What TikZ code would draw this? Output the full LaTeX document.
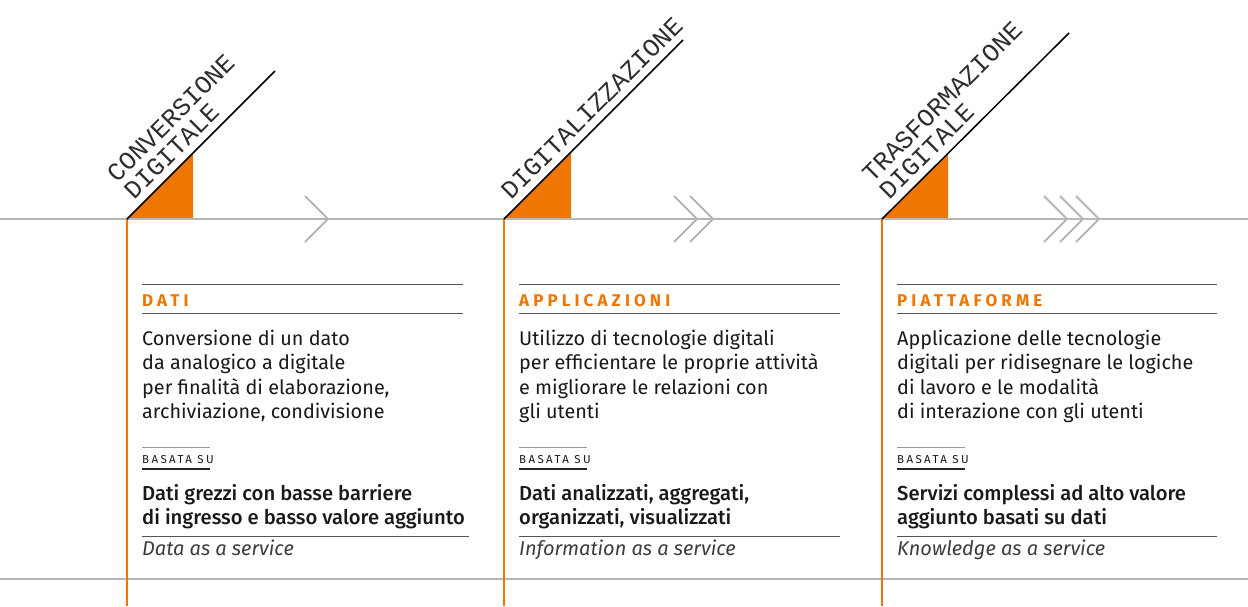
\documentclass[tikz,border=0pt]{standalone}
\usepackage{fontspec}
\setmainfont{Fira Sans}
\newfontfamily\medfont{Fira Sans Medium}
\newfontfamily\headfont{Fira Sans}[LetterSpace=24]
\newfontfamily\basfont{Fira Sans}[LetterSpace=21]
\newfontfamily\titlemono{Liberation Mono}
\usetikzlibrary{calc}
\definecolor{orng}{RGB}{238,118,3}
\definecolor{lgray}{RGB}{182,182,182}
\definecolor{rulec}{RGB}{85,85,85}
\definecolor{txt}{RGB}{25,25,25}
\definecolor{itc}{RGB}{60,60,60}
\definecolor{ttlc}{RGB}{45,45,45}
\tikzset{
  grayline/.style={draw=lgray, line width=2pt},
  chev/.style={draw=lgray, line width=2pt},
  orangeline/.style={draw=orng, line width=1.4pt},
  diag/.style={draw=black, line width=1.5pt},
  tri/.style={fill=orng},
  thinrule/.style={draw=rulec, line width=1pt},
  thickrule/.style={draw=black!85, line width=2pt},
  ttl/.style={rotate=45, anchor=base west, inner sep=0pt, text=ttlc, font=\titlemono\fontsize{25.5}{25.5}\selectfont},
  head/.style={anchor=base west, inner sep=0pt, text=orng, font=\headfont\bfseries\fontsize{17}{17}\selectfont},
  bodytxt/.style={anchor=base west, inner sep=0pt, text=txt, font=\fontsize{19.8}{24}\selectfont},
  bastxt/.style={anchor=base west, inner sep=0pt, text=txt, font=\basfont\fontsize{11.5}{12}\selectfont},
  medtxt/.style={anchor=base west, inner sep=0pt, text=txt, font=\medfont\fontsize{20.2}{24}\selectfont},
  ittxt/.style={anchor=base west, inner sep=0pt, text=itc, font=\itshape\fontsize{20}{24}\selectfont},
}
\begin{document}
\begin{tikzpicture}[x=1pt,y=-1pt]
\useasboundingbox (0,0) rectangle (1248,606);
% base coordinates
\coordinate (L0) at (0,219);
\coordinate (L1) at (1248,219);
\coordinate (M0) at (0,579);
\coordinate (M1) at (1248,579);
\coordinate (b1) at (127,219);
\coordinate (b2) at (504,219);
\coordinate (b3) at (882,219);
\coordinate (e1) at (127,606);
\coordinate (e2) at (504,606);
\coordinate (e3) at (882,606);
\coordinate (d1) at (275,71);
\coordinate (d2) at (683,40);
\coordinate (d3) at (1069,33);
% triangles
\fill[tri] (b1) -- (193,219) -- (193,153) -- cycle;
\fill[tri] (b2) -- (571,219) -- (571,152) -- cycle;
\fill[tri] (b3) -- (948,219) -- (948,153) -- cycle;
% gray lines
\draw[grayline] (L0) -- (L1);
\draw[grayline] (M0) -- (M1);
% orange verticals
\draw[orangeline] (b1) -- (e1);
\draw[orangeline] (b2) -- (e2);
\draw[orangeline] (b3) -- (e3);
% diagonals
\draw[diag] (b1) -- (d1);
\draw[diag] (b2) -- (d2);
\draw[diag] (b3) -- (d3);
% chevrons
\coordinate (a1) at (328,219);
\draw[chev] (305,196) -- (a1) -- (305,242);
\coordinate (a2) at (697,219);
\coordinate (a3) at (713,219);
\draw[chev] (674,196) -- (a2) -- (674,242);
\draw[chev] (690,196) -- (a3) -- (690,242);
\coordinate (a4) at (1067,219);
\coordinate (a5) at (1083,219);
\coordinate (a6) at (1099,219);
\draw[chev] (1044,196) -- (a4) -- (1044,242);
\draw[chev] (1060,196) -- (a5) -- (1060,242);
\draw[chev] (1076,196) -- (a6) -- (1076,242);
% titles
\node[ttl] (t1a) at ($(b1)+(-9.9,-35.4)$) {CONVERSIONE};
\node[ttl] (t1b) at ($(b1)+(7.1,-18.4)$) {DIGITALE};
\node[ttl] (t2a) at ($(b2)+(7.1,-18.4)$) {DIGITALIZZAZIONE};
\node[ttl] (t3a) at ($(b3)+(-9.9,-35.4)$) {TRASFORMAZIONE};
\node[ttl] (t3b) at ($(b3)+(7.1,-18.4)$) {DIGITALE};
% column 1
\draw[thinrule] (142,284.5) -- (463,284.5);
\node[head] (h1) at (142,306) {DATI};
\draw[thinrule] (142,313.5) -- (463,313.5);
\node[bodytxt] (p1a) at (142,345) {Conversione di un dato};
\node[bodytxt] (p1b) at (142,369.5) {da analogico a digitale};
\node[bodytxt] (p1c) at (142,394) {per finalità di elaborazione,};
\node[bodytxt] (p1d) at (142,418.5) {archiviazione, condivisione};
\draw[thinrule, draw=rulec!60] (142,447.5) -- (210,447.5);
\node[bastxt] (s1) at (142,463) {BASATA SU};
\draw[thickrule] (142,468.5) -- (210,468.5);
\node[medtxt] (m1a) at (142,500.5) {Dati grezzi con basse barriere};
\node[medtxt] (m1b) at (142,524.5) {di ingresso e basso valore aggiunto};
\draw[thinrule] (142,536) -- (469,536);
\node[ittxt] (i1) at (142,555) {Data as a service};
% column 2
\draw[thinrule] (519,284.5) -- (840,284.5);
\node[head] (h2) at (519,306) {APPLICAZIONI};
\draw[thinrule] (519,313.5) -- (840,313.5);
\node[bodytxt] (p2a) at (519,345) {Utilizzo di tecnologie digitali};
\node[bodytxt] (p2b) at (519,369.5) {per efficientare le proprie attività};
\node[bodytxt] (p2c) at (519,394) {e migliorare le relazioni con};
\node[bodytxt] (p2d) at (519,418.5) {gli utenti};
\draw[thinrule, draw=rulec!60] (519,447.5) -- (587,447.5);
\node[bastxt] (s2) at (519,463) {BASATA SU};
\draw[thickrule] (519,468.5) -- (587,468.5);
\node[medtxt] (m2a) at (519,500.5) {Dati analizzati, aggregati,};
\node[medtxt] (m2b) at (519,524.5) {organizzati, visualizzati};
\draw[thinrule] (519,536) -- (840,536);
\node[ittxt] (i2) at (519,555) {Information as a service};
% column 3
\draw[thinrule] (897,284.5) -- (1217,284.5);
\node[head] (h3) at (897,306) {PIATTAFORME};
\draw[thinrule] (897,313.5) -- (1217,313.5);
\node[bodytxt] (p3a) at (897,345) {Applicazione delle tecnologie};
\node[bodytxt] (p3b) at (897,369.5) {digitali per ridisegnare le logiche};
\node[bodytxt] (p3c) at (897,394) {di lavoro e le modalità};
\node[bodytxt] (p3d) at (897,418.5) {di interazione con gli utenti};
\draw[thinrule, draw=rulec!60] (897,447.5) -- (965,447.5);
\node[bastxt] (s3) at (897,463) {BASATA SU};
\draw[thickrule] (897,468.5) -- (965,468.5);
\node[medtxt] (m3a) at (897,500.5) {Servizi complessi ad alto valore};
\node[medtxt] (m3b) at (897,524.5) {aggiunto basati su dati};
\draw[thinrule] (897,536) -- (1217,536);
\node[ittxt] (i3) at (897,555) {Knowledge as a service};
\end{tikzpicture}
\end{document}
